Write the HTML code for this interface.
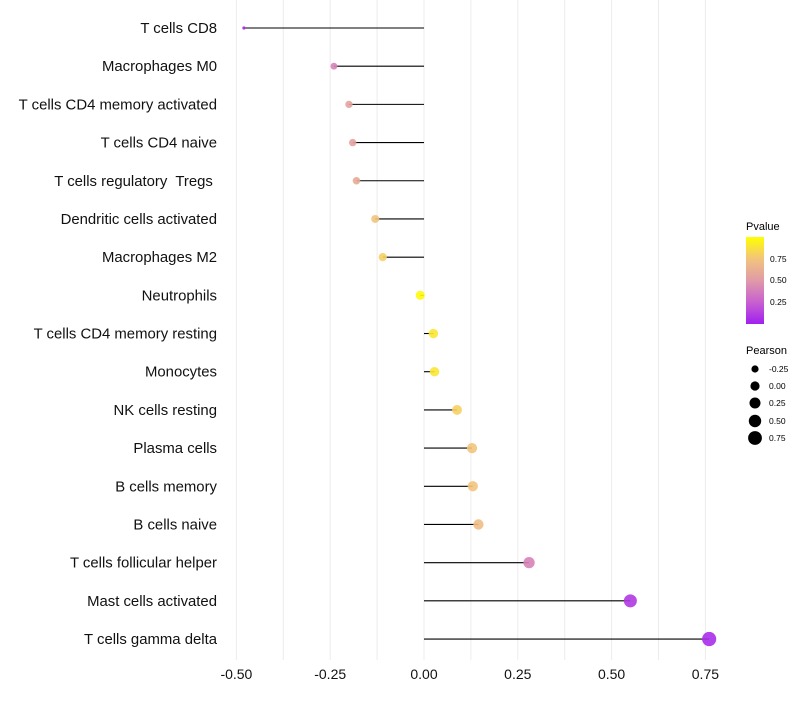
<!DOCTYPE html>
<html><head><meta charset="utf-8"><style>
body{margin:0;background:#fff;font-family:"Liberation Sans",sans-serif}
</style></head><body>
<svg id="chart" width="800" height="700" xmlns="http://www.w3.org/2000/svg" font-family="Liberation Sans, sans-serif">
<defs><linearGradient id="pg" x1="0" y1="1" x2="0" y2="0">
<stop offset="0" stop-color="#A020F0"/><stop offset="0.25" stop-color="#C860D0"/><stop offset="0.5" stop-color="#E09AA8"/><stop offset="0.75" stop-color="#F2C47C"/><stop offset="1" stop-color="#FFFF00"/></linearGradient></defs>
<g id="grid"></g><g id="marks"></g><g id="labels"></g><g id="xt"></g>
<g>
<text x="746" y="230" font-size="11">Pvalue</text>
<rect x="746" y="237" width="18" height="87" fill="url(#pg)"/>
<text x="770" y="262" font-size="8.5">0.75</text>
<text x="770" y="283" font-size="8.5">0.50</text>
<text x="770" y="305" font-size="8.5">0.25</text>
</g>
<g>
<text x="746" y="354" font-size="11">Pearson</text>
<circle cx="755" cy="369" r="3.6"/><text x="769" y="372" font-size="8.5">-0.25</text>
<circle cx="755" cy="386" r="4.6"/><text x="769" y="389" font-size="8.5">0.00</text>
<circle cx="755" cy="403" r="5.5"/><text x="769" y="406" font-size="8.5">0.25</text>
<circle cx="755" cy="421" r="6.2"/><text x="769" y="424" font-size="8.5">0.50</text>
<circle cx="755" cy="438" r="6.9"/><text x="769" y="441" font-size="8.5">0.75</text>
</g>
</svg>
<script>
const categories=["T cells CD8","Macrophages M0","T cells CD4 memory activated","T cells CD4 naive","T cells regulatory  Tregs ","Dendritic cells activated","Macrophages M2","Neutrophils","T cells CD4 memory resting","Monocytes","NK cells resting","Plasma cells","B cells memory","B cells naive","T cells follicular helper","Mast cells activated","T cells gamma delta"];
const pearson=[-0.48,-0.24,-0.2,-0.19,-0.18,-0.13,-0.11,-0.01,0.025,0.028,0.088,0.128,0.13,0.145,0.28,0.55,0.76];
const pvalue=[0.03,0.4,0.55,0.55,0.6,0.75,0.8,0.98,0.9,0.9,0.8,0.75,0.75,0.7,0.4,0.1,0.05];
const xticks=[-0.5,-0.25,0,0.25,0.5,0.75];
const xtickLabels=["-0.50","-0.25","0.00","0.25","0.50","0.75"];
const NS="http://www.w3.org/2000/svg";
const x=v=>424+v*375.2;
const y=i=>28+i*38.19;
function mk(t,a,p){const e=document.createElementNS(NS,t);for(const k in a)e.setAttribute(k,a[k]);document.getElementById(p).appendChild(e);return e;}
const stops=[[0,[160,32,240]],[0.25,[200,96,208]],[0.5,[224,154,168]],[0.75,[242,196,124]],[1,[255,255,0]]];
function col(p){for(let i=1;i<stops.length;i++){if(p<=stops[i][0]){const a=stops[i-1],b=stops[i],t=(p-a[0])/(b[0]-a[0]);return "rgb("+a[1].map((c,j)=>Math.round(c+(b[1][j]-c)*t)).join(",")+")";}}return "rgb(255,255,0)";}
for(let v=-0.5;v<=0.76;v+=0.125){const g=mk("line",{x1:x(v),x2:x(v),y1:0,y2:660,stroke:"#ececec","stroke-width":1},"grid");

}
const vmin=Math.min(...pearson),vmax=Math.max(...pearson);
categories.forEach((c,i)=>{
const l=mk("line",{x1:x(0),x2:x(pearson[i]),y1:y(i),y2:y(i),stroke:"#000","stroke-width":1.1},"marks");


const r=Math.sqrt(2.5+(pearson[i]-vmin)/(vmax-vmin)*48);
const d=mk("circle",{cx:x(pearson[i]),cy:y(i),r:r,fill:col(pvalue[i]),"fill-opacity":0.9},"marks");


const t=mk("text",{x:217,y:y(i)+5,"text-anchor":"end","font-size":14.9,fill:"#111"},"labels");
t.setAttribute('xml:space','preserve');
t.style.whiteSpace='pre';
t.textContent=c;


});
xticks.forEach((v,i)=>{const t=mk("text",{x:x(v),y:679,"text-anchor":"middle","font-size":14,fill:"#111"},"xt");
t.textContent=xtickLabels[i];

});
</script>
</body></html>
